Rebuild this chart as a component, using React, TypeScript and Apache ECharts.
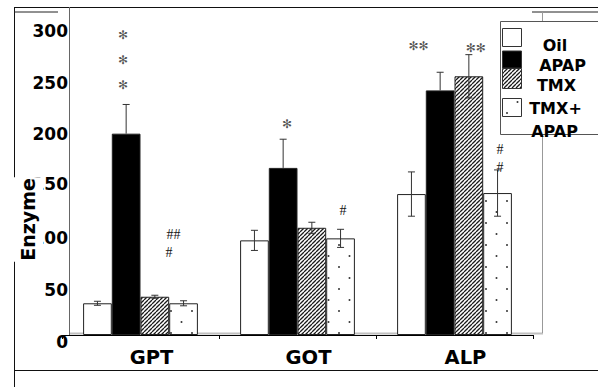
import React, { useEffect, useRef } from 'react';
import * as echarts from 'echarts';

// Enzyme activity per assay, one array per treatment group
const categories = ['GPT', 'GOT', 'ALP'];
const groupNames = ['Oil', 'APAP', 'TMX', 'TMX+APAP'];
const oilMean = [31.5, 94, 140];
const oilErr = [2, 10, 22];
const apapMean = [200, 166, 243];
const apapErr = [29, 28.5, 18];
const tmxMean = [38, 106.5, 257];
const tmxErr = [1.5, 5.5, 21.5];
const tmxApapMean = [31.5, 96, 141];
const tmxApapErr = [2.5, 9, 23];

const yMin = 0;
const yMax = 300;
const yStep = 50;

// Significance marks: [category, group, axis height, sideways nudge (px), symbol]
const marks: [number, number, number, number, string][] = [
  [0, 1, 298, -3, '*'],
  [0, 1, 273, -3, '*'],
  [0, 1, 248, -3, '*'],
  [0, 3, 99.5, -10, '##'],
  [0, 3, 81.5, -14.5, '#'],
  [1, 1, 209.5, 4, '*'],
  [1, 3, 124, 2.5, '#'],
  [2, 0, 287.5, 7, '**'],
  [2, 2, 285.5, 7, '**'],
  [2, 3, 184, 2.5, '#'],
  [2, 3, 166, 2.5, '#'],
];

const BAR_W = 28.7;
const FONT = '"DejaVu Sans", "Liberation Sans", Arial, sans-serif';

function makeHatch(): HTMLCanvasElement {
  const c = document.createElement('canvas');
  c.width = 4;
  c.height = 4;
  const g = c.getContext('2d')!;
  g.fillStyle = '#ffffff';
  g.fillRect(0, 0, 4, 4);
  g.strokeStyle = '#1a1a1a';
  g.lineWidth = 1.3;
  g.beginPath();
  for (const k of [-4, 0, 4]) {
    g.moveTo(k, 4);
    g.lineTo(k + 4, 0);
  }
  g.stroke();
  return c;
}

function makeDots(): HTMLCanvasElement {
  const c = document.createElement('canvas');
  c.width = 21;
  c.height = 22;
  const g = c.getContext('2d')!;
  g.fillStyle = '#ffffff';
  g.fillRect(0, 0, 21, 22);
  g.fillStyle = '#333333';
  for (const [x, y] of [[3, 3], [13.5, 14]]) {
    g.beginPath();
    g.arc(x, y, 1, 0, Math.PI * 2);
    g.fill();
  }
  return c;
}

export default function App() {
  const ref = useRef<HTMLDivElement>(null);

  useEffect(() => {
    if (!ref.current) return;
    const chart = echarts.init(ref.current, null, { renderer: 'svg' });

    const hatch = { image: makeHatch(), repeat: 'repeat', imageWidth: 4, imageHeight: 4 };
    const dots = { image: makeDots(), repeat: 'repeat', imageWidth: 21, imageHeight: 22 };

    const means = [oilMean, apapMean, tmxMean, tmxApapMean];
    const errs = [oilErr, apapErr, tmxErr, tmxApapErr];
    const fills: any[] = ['#ffffff', '#000000', hatch, dots];

    const errData: number[][] = [];
    means.forEach((arr, g) =>
      arr.forEach((m, c) => errData.push([c, g, m, errs[g][c]]))
    );

    const barSeries = means.map((arr, g) => ({
      name: groupNames[g],
      type: 'bar',
      data: arr,
      barWidth: BAR_W,
      barGap: '0%',
      itemStyle: { color: fills[g], borderColor: '#222', borderWidth: 1 },
      emphasis: { disabled: true },
      silent: true,
    }));

    const lineStyle = (c: string, w = 1) => ({ stroke: c, lineWidth: w });
    const hLine = (x1: number, x2: number, y: number, c: string, w = 1, z = 1) => ({
      type: 'line', z, silent: true,
      shape: { x1, y1: y, x2, y2: y }, style: lineStyle(c, w),
    });
    const vLine = (x: number, y1: number, y2: number, c: string, w = 1, z = 1) => ({
      type: 'line', z, silent: true,
      shape: { x1: x, y1, x2: x, y2 }, style: lineStyle(c, w),
    });

    const legendFont = { fontFamily: FONT, fontWeight: 'bold', fontSize: 16, fill: '#000' };
    const legendText = (text: string, x: number, y: number) => ({
      type: 'text', z: 11, silent: true,
      style: { text, x, y, align: 'center', verticalAlign: 'middle', ...legendFont },
    });
    const legendSwatch = (y: number, h: number, fill: any) => ({
      type: 'rect', z: 11, silent: true,
      shape: { x: 502.5, y, width: 19, height: h },
      style: { fill, stroke: '#333', lineWidth: 1 },
    });

    const labelShift: Record<number, string> = { 0: 'a', 50: 'b', 100: 'c', 300: 'd' };
    const tickFont = { fontFamily: FONT, fontWeight: 'bold', fontSize: 17, color: '#000' };

    chart.setOption({
      animation: false,
      backgroundColor: '#ffffff',
      grid: { left: 62, right: 65, top: 33, bottom: 52, containLabel: false, outerBoundsMode: 'none' },
      xAxis: {
        type: 'category',
        data: categories,
        axisLine: { show: true, lineStyle: { color: '#000', width: 1 } },
        axisTick: { show: true, length: 4, lineStyle: { color: '#000' } },
        axisLabel: {
          margin: 12,
          fontFamily: FONT,
          fontWeight: 'bold',
          fontSize: 19.5,
          color: '#000',
          padding: [0, 0, 0, 22],
        },
        splitLine: { show: false },
      },
      yAxis: {
        type: 'value',
        min: yMin,
        max: yMax,
        interval: yStep,
        offset: -7,
        axisLine: { show: false },
        axisTick: { show: false },
        splitLine: { show: false },
        axisLabel: {
          margin: 1,
          ...tickFont,
          formatter: (v: number) => (labelShift[v] ? `{${labelShift[v]}|${v}}` : String(v)),
          rich: {
            a: { ...tickFont, padding: [13, 0, 0, 0] },
            b: { ...tickFont, padding: [10, 0, 0, 0] },
            c: { ...tickFont, padding: [7, 0, 0, 0] },
            d: { ...tickFont, padding: [0, 0, 4, 0] },
          },
        },
      },
      graphic: [
        // outer frame
        hLine(14, 598, 7.5, '#111'),
        vLine(14.5, 7, 387, '#111'),
        hLine(14, 598, 370.5, '#111'),
        hLine(14, 58, 12, '#222'),
        hLine(532, 598, 12, '#222'),
        // plot area frame
        vLine(69.5, 7, 335, '#666'),
        vLine(542.5, 12, 333, '#999'),
        hLine(69, 543, 333.5, '#c0c0c0', 2, 0),
        // axis title
        {
          type: 'text', z: 12, silent: true, rotation: Math.PI / 2, x: 27.5, y: 219.5,
          style: {
            text: 'Enzyme', align: 'center', verticalAlign: 'middle',
            fontFamily: FONT, fontWeight: 'bold', fontSize: 19, fill: '#000',
            backgroundColor: '#ffffff', padding: [0, 1, 12, 1],
          },
        },
        // legend
        {
          type: 'rect', z: 10, silent: true,
          shape: { x: 500.5, y: 21.5, width: 120, height: 113 },
          style: { fill: '#ffffff', stroke: '#555', lineWidth: 1 },
        },
        legendSwatch(28.5, 18, '#ffffff'),
        legendSwatch(51, 17, '#000000'),
        legendSwatch(68.5, 20, hatch),
        legendSwatch(98.5, 18, dots),
        legendText('Oil', 555, 45.5),
        legendText('APAP', 562.5, 65.5),
        legendText('TMX', 556.5, 85.5),
        legendText('TMX+', 555.5, 108.5),
        legendText('APAP', 554.5, 131),
      ],
      series: [
        ...barSeries,
        {
          type: 'custom',
          name: 'error',
          silent: true,
          data: errData,
          encode: { x: 0, y: 2 },
          z: 5,
          renderItem: (_p: any, api: any) => {
            const c = api.value(0);
            const g = api.value(1);
            const m = api.value(2);
            const e = api.value(3);
            const base = api.coord([c, m]);
            const top = api.coord([c, m + e]);
            const bot = api.coord([c, m - e]);
            const x = base[0] + (g - 1.5) * BAR_W;
            const st = { stroke: '#333', lineWidth: 1 };
            // the lower whisker disappears inside the solid black bars
            const lowY = g === 1 ? base[1] : bot[1];
            const children: any[] = [
              { type: 'line', shape: { x1: x, y1: top[1], x2: x, y2: lowY }, style: st },
              { type: 'line', shape: { x1: x - 3.5, y1: top[1], x2: x + 3.5, y2: top[1] }, style: st },
            ];
            if (g !== 1) {
              children.push({ type: 'line', shape: { x1: x - 3.5, y1: bot[1], x2: x + 3.5, y2: bot[1] }, style: st });
            }
            return { type: 'group', children };
          },
        },
        {
          type: 'custom',
          name: 'marks',
          silent: true,
          data: marks.map((m) => [m[0], m[1], m[2], m[3]]),
          encode: { x: 0, y: 2 },
          z: 6,
          renderItem: (p: any, api: any) => {
            const c = api.value(0);
            const g = api.value(1);
            const h = api.value(2);
            const dx = api.value(3);
            const pt = api.coord([c, h]);
            const sym = marks[p.dataIndex][4];
            const isStar = sym.indexOf('*') >= 0;
            return {
              type: 'text',
              x: pt[0] + (g - 1.5) * BAR_W + dx,
              y: pt[1],
              style: {
                text: isStar ? sym.replace(/\*/g, '✻') : sym,
                align: 'center',
                verticalAlign: 'middle',
                fontFamily: isStar ? '"DejaVu Sans", sans-serif' : '"Liberation Serif", "DejaVu Serif", serif',
                fontSize: isStar ? 12 : 14,
                fill: isStar ? '#555' : '#111',
              },
            };
          },
        },
      ],
    });

    return () => chart.dispose();
  }, []);

  return (
    <div
      ref={ref}
      style={{ position: 'absolute', left: 0, top: 0, width: 598, height: 387 }}
    />
  );
}
